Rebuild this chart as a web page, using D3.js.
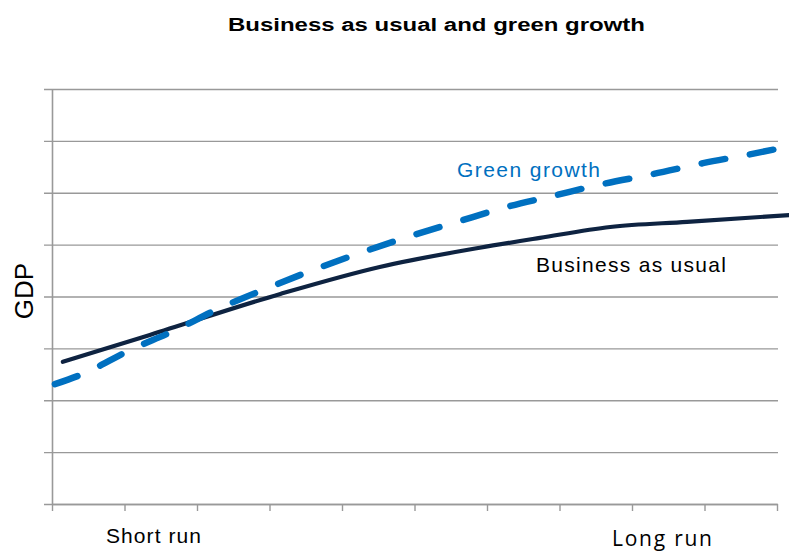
<!DOCTYPE html>
<html><head><meta charset="utf-8">
<script src="https://cdn.jsdelivr.net/npm/d3@7"></script>
<style>body{margin:0;background:#fff}svg{display:block}</style>
</head><body>
<svg id="c" width="789" height="551"></svg>
<script>
const title = "Business as usual and green growth";
const yTicks = [0,1,2,3,4,5,6,7,8];
const xTicks = [0,1,2,3,4,5,6,7,8,9,10];
const xLabels = ["Short run","Long run"];
const bauX = [0.15,1.35,3.15,4.52,5.90,6.73,7.70,8.76,10.4];
const bauY = [2.74,3.26,4.05,4.57,4.94,5.13,5.34,5.44,5.59];
const greenX = [0.04,0.43,1.05,1.70,2.29,2.97,3.6,4.25,4.91,5.59,6.28,6.91,7.6,8.29,8.98,9.66,10.3];
const greenY = [2.31,2.51,2.95,3.35,3.76,4.16,4.51,4.84,5.15,5.44,5.73,5.94,6.17,6.36,6.57,6.75,6.93];

const svg = d3.select("#c");
const x = d3.scaleLinear().domain([0,10]).range([52,777]);
const y = d3.scaleLinear().domain([0,8]).range([504,89]);

// gridlines + y axis
const ga = svg.append("g").attr("transform","translate(52,0)")
  .call(d3.axisLeft(y).tickValues(yTicks).tickSize(-(778-52)).tickSizeOuter(0).tickFormat(""));
ga.selectAll(".tick line").attr("stroke","#999").attr("stroke-width",1.4).attr("x1",-8);
ga.select(".domain").attr("stroke","#999").attr("stroke-width",1.6);

const xa = svg.append("g").attr("transform","translate(0,504)")
  .call(d3.axisBottom(x).tickValues(xTicks).tickSize(7).tickSizeOuter(0).tickFormat(""));
xa.selectAll(".tick line").attr("stroke","#999").attr("stroke-width",1.4);
xa.select(".domain").attr("stroke","#999").attr("stroke-width",1.4);

const line = d3.line().x(d=>x(d[0])).y(d=>y(d[1])).curve(d3.curveMonotoneX);

svg.append("path").datum(bauX.map((v,i)=>[v,bauY[i]]))
  .attr("d",line).attr("fill","none").attr("stroke","#0e2341").attr("stroke-width",4.2).attr("stroke-linecap","round");
svg.append("path").datum(greenX.map((v,i)=>[v,greenY[i]]))
  .attr("d",line).attr("fill","none").attr("stroke","#0070c0").attr("stroke-width",6.5)
  .attr("stroke-linecap","round").attr("stroke-dasharray","24,25");

const ff = "'Liberation Sans', Arial, sans-serif";
svg.append("text").attr("x",228).attr("y",31).attr("font-family",ff).attr("font-weight","bold")
  .attr("font-size",18).attr("textLength",417).attr("lengthAdjust","spacingAndGlyphs").attr("fill","#000").text(title);

svg.append("text").attr("transform","translate(33,291) rotate(-90)").attr("text-anchor","middle")
  .attr("font-family",ff).attr("font-size",26).attr("fill","#000").text("GDP");

svg.append("text").attr("x",457).attr("y",177).attr("font-family",ff).attr("font-size",21)
  .attr("textLength",143).attr("lengthAdjust","spacing").attr("fill","#0070c0").text("Green growth");
svg.append("text").attr("x",536).attr("y",272).attr("font-family",ff).attr("font-size",21)
  .attr("textLength",190).attr("lengthAdjust","spacing").attr("fill","#000").text("Business as usual");

svg.append("text").attr("x",106).attr("y",543).attr("font-family",ff).attr("font-size",21)
  .attr("textLength",95).attr("lengthAdjust","spacing").attr("fill","#000").text(xLabels[0]);
svg.append("text").attr("x",612).attr("y",546).attr("font-family","'Open Sans', 'Carlito', sans-serif").attr("font-size",21)
  .attr("textLength",100).attr("lengthAdjust","spacing").attr("fill","#000").text(xLabels[1]);
</script>
</body></html>
